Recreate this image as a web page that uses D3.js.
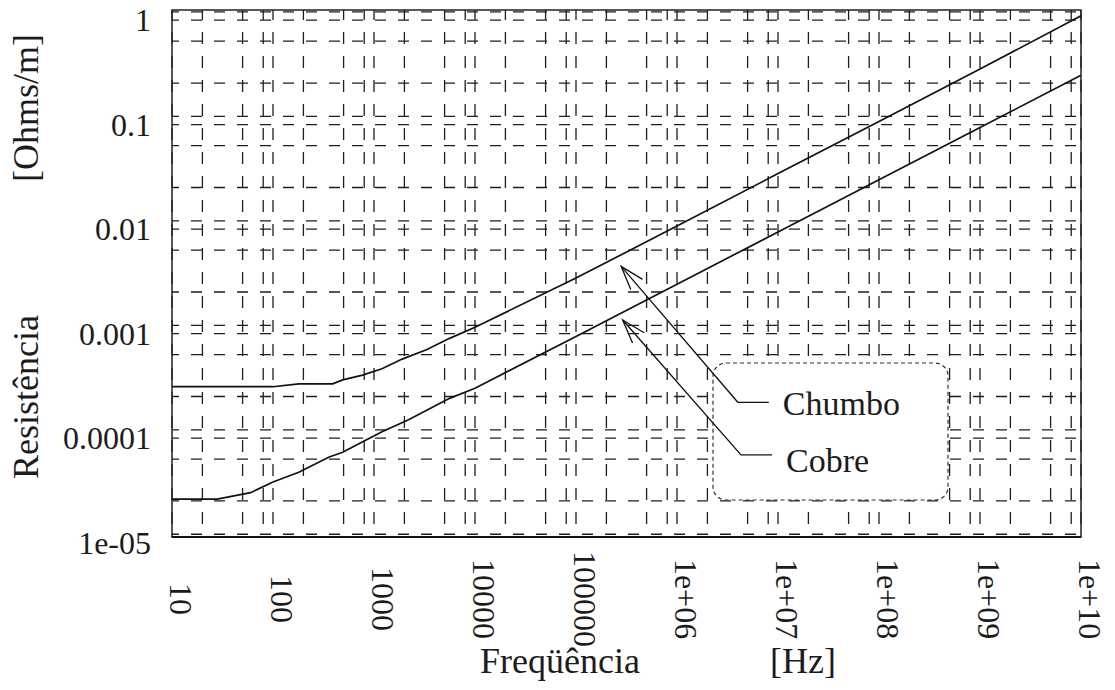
<!DOCTYPE html>
<html>
<head>
<meta charset="utf-8">
<script src="https://cdn.jsdelivr.net/npm/d3@7"></script>
<style>
  body { margin: 0; background: #fff; }
  text { font-family: "Liberation Serif", "DejaVu Serif", serif; fill: #1c1c1c; }
</style>
</head>
<body>
<svg id="chart"></svg>
<script>
// Resistance per metre vs frequency
const freqChumbo = [10, 100, 180, 390, 490, 770, 1200, 1900, 3300, 5600, 1e4, 1e5, 1e6, 1e7, 1e8, 1e9, 1e10];
const resChumbo  = [3.1e-4, 3.1e-4, 3.3e-4, 3.3e-4, 3.6e-4, 4.0e-4, 4.6e-4, 5.7e-4, 7.0e-4, 9.0e-4, 1.15e-3, 3.4e-3, 1.07e-2, 3.4e-2, 0.107, 0.34, 1.1];

const freqCobre = [10, 28, 60, 100, 180, 360, 490, 670, 1200, 2200, 5600, 1e4, 1e5, 1e6, 1e7, 1e8, 1e9, 1e10];
const resCobre  = [2.6e-5, 2.6e-5, 3.0e-5, 3.8e-5, 4.7e-5, 6.6e-5, 7.3e-5, 8.6e-5, 1.15e-4, 1.5e-4, 2.4e-4, 3.0e-4, 9.4e-4, 2.96e-3, 9.4e-3, 2.96e-2, 9.4e-2, 0.296];

// ticks / grid
const xTicks = [10, 1e2, 1e3, 1e4, 1e5, 1e6, 1e7, 1e8, 1e9, 1e10];
const xTickLabels = ["10", "100", "1000", "10000", "100000", "1e+06", "1e+07", "1e+08", "1e+09", "1e+10"];
const xMinor = [2, 5, 8];
const yTicks = [1e-5, 1e-4, 1e-3, 1e-2, 0.1, 1];
const yTickLabels = ["1e-05", "0.0001", "0.001", "0.01", "0.1", "1"];
const yMinor = [1.2, 2.5, 6.3];

// legend / arrows (data coords of arrow tip and elbow)
const seriesNames = ["Chumbo", "Cobre"];
const tipFreq  = [2.8e5, 2.9e5];
const tipRes   = [4.4e-3, 1.35e-3];
const elbowFreq = [4.0e6, 4.3e6];
const elbowRes  = [2.2e-4, 6.9e-5];

const W = 1115, H = 690;
const plot = {left: 172, right: 1081, top: 10, bottom: 537};

const svg = d3.select("#chart").attr("width", W).attr("height", H);

const x = d3.scaleLog().domain([10, 1e10]).range([plot.left, plot.right]);
const y = d3.scaleLog().domain([1.13e-5, 1.25]).range([plot.bottom, plot.top]);

// grid values
let xGrid = [];
xTicks.forEach(d => { xGrid.push(d); if (d < 1e10) xMinor.forEach(m => xGrid.push(d * m)); });
let yGrid = [];
yTicks.forEach(d => { yGrid.push(d); yMinor.forEach(m => yGrid.push(d * m)); });
yGrid = yGrid.filter(v => v >= y.domain()[0] && v <= y.domain()[1]);

const grid = svg.append("g").attr("stroke", "#1e1e1e").attr("stroke-width", 1.3);

grid.selectAll("line.h")
  .data(yGrid)
  .join("line")
  .attr("class", "h")
  .attr("x1", plot.left).attr("x2", plot.right)
  .attr("y1", d => y(d)).attr("y2", d => y(d))
  .attr("stroke-dasharray", "11,12")
  .attr("stroke-dashoffset", 4);

grid.selectAll("line.v")
  .data(xGrid)
  .join("line")
  .attr("class", "v")
  .attr("x1", d => x(d)).attr("x2", d => x(d))
  .attr("y1", plot.top).attr("y2", plot.bottom)
  .attr("stroke-dasharray", "12,12")
  .attr("stroke-dashoffset", 2);

// frame
svg.append("rect")
  .attr("x", plot.left).attr("y", plot.top)
  .attr("width", plot.right - plot.left).attr("height", plot.bottom - plot.top)
  .attr("fill", "none").attr("stroke", "#222").attr("stroke-width", 1.5);
svg.append("line")
  .attr("x1", plot.left).attr("x2", plot.right)
  .attr("y1", plot.bottom).attr("y2", plot.bottom)
  .attr("stroke", "#111").attr("stroke-width", 2.2);

// curves
const line = d3.line().x(d => x(d[0])).y(d => y(d[1]));
const series = [d3.zip(freqChumbo, resChumbo), d3.zip(freqCobre, resCobre)];
svg.append("g").selectAll("path")
  .data(series)
  .join("path")
  .attr("d", line)
  .attr("fill", "none")
  .attr("stroke", "#111")
  .attr("stroke-width", 1.7);

// legend box
svg.append("rect")
  .attr("x", 713).attr("y", 363).attr("width", 235).attr("height", 137)
  .attr("rx", 13)
  .attr("fill", "#fff")
  .attr("stroke", "#333").attr("stroke-width", 1.2)
  .attr("stroke-dasharray", "4,3");

// leaders with open arrowheads
const ann = svg.append("g").attr("stroke", "#111").attr("stroke-width", 1.3).attr("fill", "none");
seriesNames.forEach((name, i) => {
  const tx = x(tipFreq[i]), ty = y(tipRes[i]);
  const ex = x(elbowFreq[i]), ey = y(elbowRes[i]);
  ann.append("path").attr("d", `M${tx},${ty}L${ex},${ey}L${ex + 31},${ey}`);
  const ang = Math.atan2(ey - ty, ex - tx);
  const len = 25, spread = 18 * Math.PI / 180;
  const a1 = ang - spread, a2 = ang + spread;
  ann.append("path")
    .attr("d", `M${tx + len * Math.cos(a1)},${ty + len * Math.sin(a1)}L${tx},${ty}L${tx + len * Math.cos(a2)},${ty + len * Math.sin(a2)}`);
  svg.append("text")
    .attr("x", ex + 45).attr("y", ey + (i === 0 ? 13 : 17))
    .attr("font-size", 34)
    .text(name);
});

// y tick labels
svg.append("g").selectAll("text")
  .data(yTicks)
  .join("text")
  .attr("x", 151)
  .attr("y", d => y(d))
  .attr("dy", "0.35em")
  .attr("text-anchor", "end")
  .attr("font-size", 32)
  .text((d, i) => yTickLabels[i]);

// x tick labels (rotated)
svg.append("g").selectAll("text")
  .data(xTicks)
  .join("text")
  .attr("transform", d => `translate(${x(d) - 2},599) rotate(90)`)
  .attr("text-anchor", "middle")
  .attr("font-size", 32)
  .text((d, i) => xTickLabels[i]);

// axis titles
svg.append("text")
  .attr("transform", "translate(38,397) rotate(-90)")
  .attr("text-anchor", "middle").attr("font-size", 36)
  .text("Resistência");
svg.append("text")
  .attr("transform", "translate(38,108) rotate(-90)")
  .attr("text-anchor", "middle").attr("font-size", 36)
  .text("[Ohms/m]");
svg.append("text")
  .attr("x", 560).attr("y", 673)
  .attr("text-anchor", "middle").attr("font-size", 36)
  .text("Freqüência");
svg.append("text")
  .attr("x", 803).attr("y", 673)
  .attr("text-anchor", "middle").attr("font-size", 36)
  .text("[Hz]");
</script>
</body>
</html>
